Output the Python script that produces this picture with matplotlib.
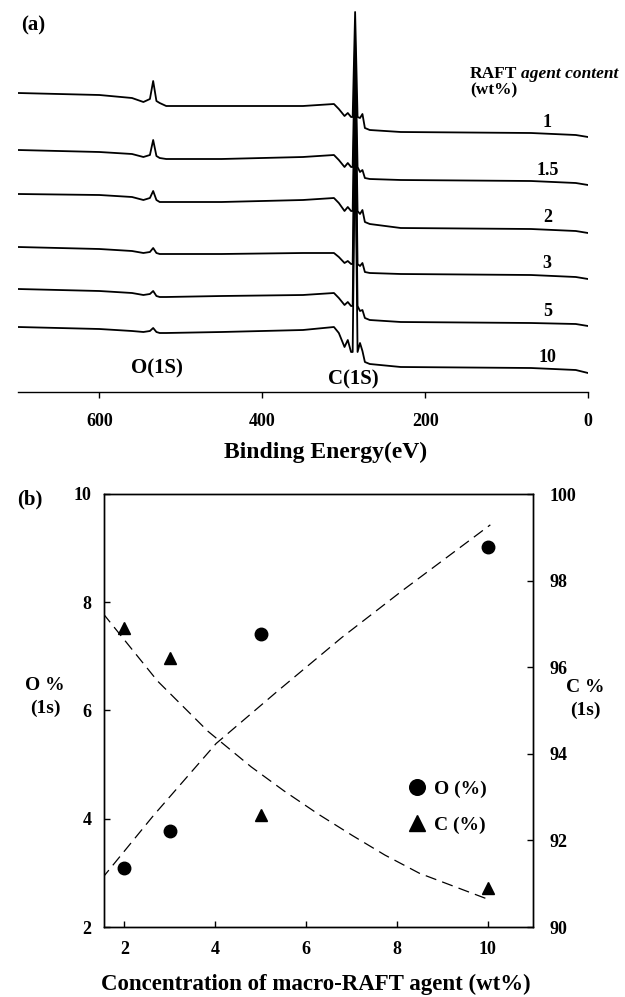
import matplotlib
matplotlib.use('Agg')
import matplotlib.pyplot as plt

plt.rcParams['font.family'] = ['Liberation Serif', 'DejaVu Serif']
plt.rcParams['font.weight'] = 'bold'

# ---- (a) XPS survey spectra ----
be = [700, 600, 560, 546, 538, 534, 530, 526, 518, 450, 350, 312, 306, 299,
      295, 291, 289, 286, 283, 280, 277, 274, 268, 230, 70, 15, 0]
raft_content = ['1', '1.5', '2', '3', '5', '10']
offsets = [299, 242, 198, 145, 103, 65]
spectra = [
    [0, -2, -5, -9, -6, 12, -8, -10, -13, -13, -13, -11, -16, -23,
     -20, -24, -24, 81, -24, -25, -21, -35, -37, -39, -40, -42, -44],
    [0, -2, -4, -7, -5, 10, -6, -8, -9, -9, -7, -5, -10, -17,
     -13, -17, -17, 110, -17, -22, -20, -28, -29, -30, -31, -33, -35],
    [0, -1, -3, -6, -4, 3, -6, -8, -8, -8, -6, -4, -9, -17,
     -13, -17, -17, 134, -17, -20, -16, -28, -30, -34, -35, -37, -39],
    [0, -2, -4, -6, -5, -1, -6, -7, -7, -7, -6, -6, -10, -16,
     -14, -17, -17, 167, -17, -19, -16, -25, -26, -27, -28, -30, -32],
    [0, -2, -4, -6, -5, -2, -7, -8, -8, -7, -6, -4, -9, -16,
     -13, -17, -17, 189, -17, -22, -21, -29, -31, -33, -34, -35, -37],
    [0, -2, -4, -5, -4, -1, -5, -6, -6, -5, -3, 0, -6, -20,
     -13, -25, -25, 197, -25, -16, -24, -35, -37, -40, -41, -43, -46],
]

# ---- (b) surface composition ----
conc = [2, 3, 5, 10]
o_pct = [3.09, 3.78, 7.41, 9.02]
c_pct = [96.91, 96.22, 92.59, 90.9]
o_trend_x = [1.5, 2.64, 4.02, 5.39, 6.79, 8.13, 10.06]
o_trend_y = [2.89, 4.06, 5.39, 6.37, 7.35, 8.22, 9.43]
c_trend_x = [1.53, 2.73, 3.84, 4.79, 5.52, 6.28, 7.01, 7.74, 8.5, 9.23, 9.96]
c_trend_y = [97.24, 95.68, 94.52, 93.7, 93.14, 92.6, 92.12, 91.66, 91.24, 90.95, 90.66]

W, H = 625, 997
fig = plt.figure(figsize=(6.25, 9.97), dpi=100)

# top panel
axa = fig.add_axes([18 / W, 1 - 392 / H, 570 / W, 387 / H])
for off, spec in zip(offsets, spectra):
    axa.plot(be, [off + v for v in spec], color='black', lw=1.3)
for lab, off, spec in zip(raft_content, offsets, spectra):
    axa.text(50, off + spec[-3] + 11, lab, ha='center', va='center', fontsize=13)
axa.set_xlim(700, 0)
axa.set_ylim(0, 387)
for s in ['left', 'right', 'top']:
    axa.spines[s].set_visible(False)
axa.spines['bottom'].set_linewidth(1.0)
axa.set_yticks([])
axa.set_xticks([600, 400, 200, 0])
axa.tick_params(axis='x', direction='out', length=4, width=1, pad=11, labelsize=13)
for t in axa.get_xticklabels():
    t.set_fontweight('bold')

fig.text(326 / W, 1 - 452 / H, 'Binding Energy(eV)', ha='center', va='center', fontsize=17)
fig.text(33 / W, 1 - 25 / H, '(a)', ha='center', va='center', fontsize=15)
t_raft = fig.text(470 / W, 1 - 74 / H, 'RAFT', ha='left', va='center', fontsize=12.5)
fig.canvas.draw()
bb = t_raft.get_window_extent()
fig.text((bb.x1 + 4) / W, 1 - 74 / H, 'agent content', ha='left', va='center',
         fontsize=12.5, style='italic')
fig.text(470 / W, 1 - 90 / H, '(wt%)', ha='left', va='center', fontsize=12.5)
fig.text(157 / W, 1 - 368 / H, 'O(1S)', ha='center', va='center', fontsize=15)
fig.text(353 / W, 1 - 379 / H, 'C(1S)', ha='center', va='center', fontsize=15)

# bottom panel
axb = fig.add_axes([104 / W, 1 - 927 / H, 429 / W, 433 / H])
axr = axb.twinx()
axb.plot(o_trend_x, o_trend_y, color='black', lw=0.9, dashes=(9, 5))
axr.plot(c_trend_x, c_trend_y, color='black', lw=0.9, dashes=(9, 5))
ho, = axb.plot(conc, o_pct, 'o', color='black', ms=9, label='O (%)')
hc, = axr.plot(conc, c_pct, '^', color='black', ms=9, label='C (%)')
axb.set_xlim(1.55, 11.0)
axb.set_ylim(2, 10)
axr.set_ylim(90, 100)
axb.set_xticks([2, 4, 6, 8, 10])
axb.set_yticks([2, 4, 6, 8, 10])
axr.set_yticks([90, 92, 94, 96, 98, 100])
axb.tick_params(direction='in', length=4, width=1, labelsize=13)
axb.tick_params(axis='x', pad=10)
axb.tick_params(axis='y', pad=9)
axr.tick_params(direction='in', length=4, width=1, labelsize=13, pad=12)
for a in (axb, axr):
    for s in a.spines.values():
        s.set_linewidth(1.0)
    for t in a.get_xticklabels() + a.get_yticklabels():
        t.set_fontweight('bold')

axr.legend(handles=[ho, hc], loc='upper left', bbox_to_anchor=(0.706, 0.339),
           frameon=False, markerscale=1.25, handlelength=1.0, handletextpad=0.4,
           borderpad=0, borderaxespad=0, labelspacing=0.95,
           prop={'size': 14, 'weight': 'bold'})

fig.text(316 / W, 1 - 984 / H, 'Concentration of macro-RAFT agent (wt%)',
         ha='center', va='center', fontsize=16.5)
fig.text(30 / W, 1 - 499 / H, '(b)', ha='center', va='center', fontsize=15)
fig.text(45 / W, 1 - 685 / H, 'O %', ha='center', va='center', fontsize=14)
fig.text(45 / W, 1 - 708 / H, '(1s)', ha='center', va='center', fontsize=14)
fig.text(585 / W, 1 - 688 / H, 'C %', ha='center', va='center', fontsize=14)
fig.text(585 / W, 1 - 710 / H, '(1s)', ha='center', va='center', fontsize=14)

fig.savefig('out.png', dpi=100)
